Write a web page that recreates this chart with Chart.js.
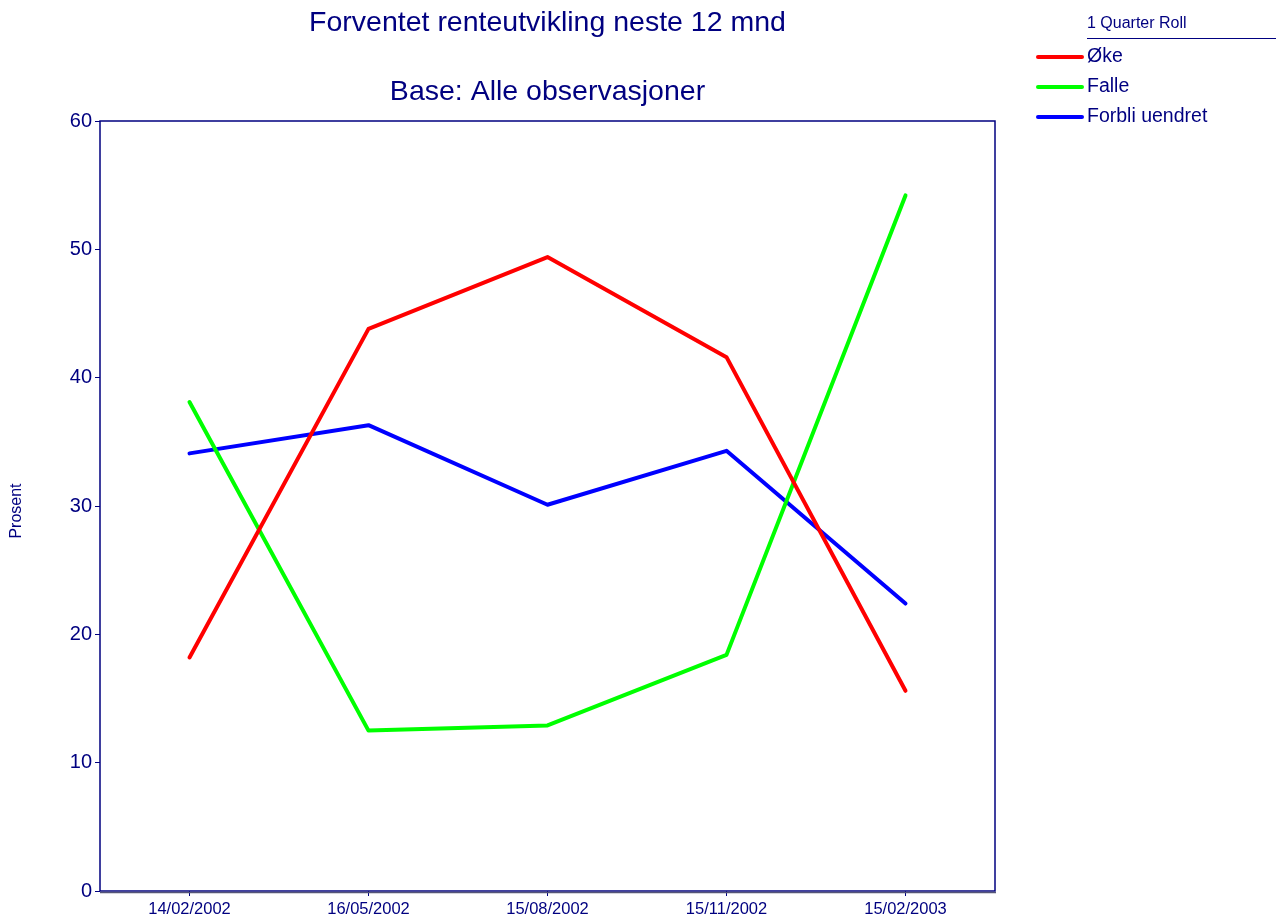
<!DOCTYPE html>
<html>
<head>
<meta charset="utf-8">
<script src="https://cdn.jsdelivr.net/npm/chart.js@4"></script>
<style>
  html, body { margin: 0; padding: 0; background: #fff; }
  #wrap { width: 1276px; height: 915px; position: relative; }
</style>
</head>
<body>
<div id="wrap"><canvas id="chart" width="1276" height="915"></canvas></div>
<script>
const dates = ['14/02/2002', '16/05/2002', '15/08/2002', '15/11/2002', '15/02/2003'];
const oke = [18.2, 43.8, 49.4, 41.6, 15.6];
const falle = [38.1, 12.5, 12.9, 18.4, 54.2];
const uendret = [34.1, 36.3, 30.1, 34.3, 22.4];

const navy = '#000080';
const font = '"Liberation Sans", Arial, sans-serif';

// titles, legend, frame and y title
const decor = {
    id: 'decor',
    afterDraw(chart) {
        const ctx = chart.ctx;
        const a = chart.chartArea;
        ctx.save();
        ctx.fillStyle = navy;
        ctx.textAlign = 'center';
        ctx.textBaseline = 'middle';
        ctx.font = '28.5px ' + font;
        const cx = (a.left + a.right) / 2;
        ctx.fillText('Forventet renteutvikling neste 12 mnd', cx, 23);
        ctx.fillText('Base: Alle observasjoner', cx, 92);

        // y axis title
        ctx.save();
        ctx.translate(17, 511);
        ctx.rotate(-Math.PI / 2);
        ctx.font = '16px ' + font;
        ctx.fillText('Prosent', 0, 0);
        ctx.restore();

        // frame
        ctx.strokeStyle = navy;
        ctx.lineWidth = 1.5;
        ctx.strokeRect(a.left, a.top, a.right - a.left, a.bottom - a.top);
        ctx.strokeStyle = '#555577';
        ctx.lineWidth = 1.5;
        ctx.beginPath();
        ctx.moveTo(a.left, a.bottom + 1.5);
        ctx.lineTo(a.right + 1, a.bottom + 1.5);
        ctx.stroke();

        // legend
        ctx.textAlign = 'left';
        ctx.font = '16px ' + font;
        ctx.fillText('1 Quarter Roll', 1087, 24);
        ctx.strokeStyle = navy;
        ctx.lineWidth = 1;
        ctx.beginPath();
        ctx.moveTo(1087, 38.5);
        ctx.lineTo(1276, 38.5);
        ctx.stroke();
        ctx.font = '19.5px ' + font;
        chart.data.datasets.forEach((ds, i) => {
            const y = 57 + i * 30;
            ctx.strokeStyle = ds.borderColor;
            ctx.lineWidth = 4;
            ctx.lineCap = 'round';
            ctx.beginPath();
            ctx.moveTo(1038, y);
            ctx.lineTo(1082, y);
            ctx.stroke();
            ctx.fillStyle = navy;
            ctx.fillText(ds.label, 1087, y);
        });
        ctx.restore();
    }
};

new Chart(document.getElementById('chart'), {
    type: 'line',
    data: {
        labels: dates,
        datasets: [
            { label: 'Øke', data: oke, borderColor: '#ff0000' },
            { label: 'Falle', data: falle, borderColor: '#00ff00' },
            { label: 'Forbli uendret', data: uendret, borderColor: '#0000ff' }
        ]
    },
    options: {
        responsive: false,
        animation: false,
        layout: { padding: { left: 0, top: 121, right: 281, bottom: 0 } },
        elements: {
            line: { borderWidth: 4, tension: 0, borderJoinStyle: 'round', borderCapStyle: 'round' },
            point: { radius: 0 }
        },
        plugins: { legend: { display: false }, title: { display: false }, tooltip: { enabled: false } },
        scales: {
            x: {
                offset: true,
                grid: { drawOnChartArea: false, offset: false, color: navy, tickLength: 5, tickColor: navy },
                border: { display: false },
                ticks: { color: navy, font: { family: font, size: 16.5 }, padding: 4, maxRotation: 0 },
                afterFit(scale) { scale.height = 24; }
            },
            y: {
                min: 0, max: 60,
                grid: { drawOnChartArea: false, tickLength: 5, tickColor: navy },
                border: { display: false },
                ticks: { stepSize: 10, color: navy, font: { family: font, size: 20 }, padding: 3 },
                afterFit(scale) { scale.width = 100; }
            }
        }
    },
    plugins: [decor]
});
</script>
</body>
</html>
